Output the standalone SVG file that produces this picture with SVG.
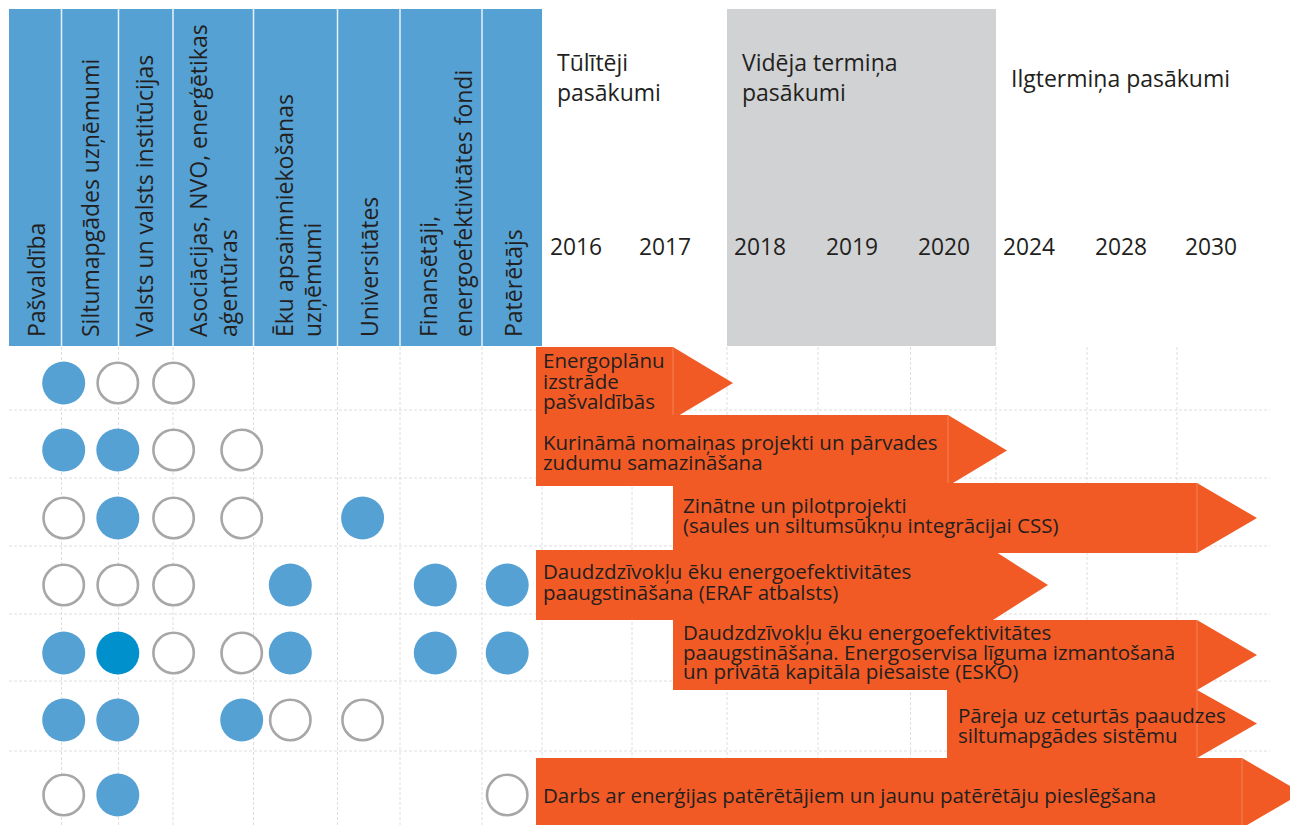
<svg xmlns="http://www.w3.org/2000/svg" width="1290" height="825" viewBox="0 0 1290 825">
<style>
.t{font-family:"Open Sans","Noto Sans","Liberation Sans",sans-serif;fill:#231f20}
.hd{font-size:23px}
.yr{font-size:22.8px}
.ar{font-size:20.5px}
.grid{stroke:#dedede;stroke-width:1;stroke-dasharray:3 2;fill:none}
.div{stroke:#e9f1f8;stroke-width:1.5}
.f{fill:#55a1d4}
.fd{fill:#0091cd}
.o{fill:#fff;stroke:#a7a7a9;stroke-width:2.6}
.arw{fill:#f15a24}
.sep{stroke:#f4825a;stroke-width:1}
</style>
<rect width="1290" height="825" fill="#fff"/>
<g id="background">
<rect x="9" y="9" width="533" height="337" fill="#55a1d4"/>
<rect x="727" y="9" width="269" height="337" fill="#d1d2d4"/>
<g class="div">
<line x1="61.5" y1="9" x2="61.5" y2="346"/>
<line x1="118.5" y1="9" x2="118.5" y2="346"/>
<line x1="173" y1="9" x2="173" y2="346"/>
<line x1="253.5" y1="9" x2="253.5" y2="346"/>
<line x1="337.5" y1="9" x2="337.5" y2="346"/>
<line x1="400" y1="9" x2="400" y2="346"/>
<line x1="482" y1="9" x2="482" y2="346"/>
</g>
</g>
<g id="grid" class="grid">
<line x1="9" y1="410" x2="1270" y2="410"/>
<line x1="9" y1="478" x2="1270" y2="478"/>
<line x1="9" y1="546" x2="1270" y2="546"/>
<line x1="9" y1="614" x2="1270" y2="614"/>
<line x1="9" y1="681" x2="1270" y2="681"/>
<line x1="9" y1="751" x2="1270" y2="751"/>
<line x1="61.5" y1="347" x2="61.5" y2="825"/>
<line x1="118.5" y1="347" x2="118.5" y2="825"/>
<line x1="173" y1="347" x2="173" y2="825"/>
<line x1="253.5" y1="347" x2="253.5" y2="825"/>
<line x1="337.5" y1="347" x2="337.5" y2="825"/>
<line x1="400" y1="347" x2="400" y2="825"/>
<line x1="482" y1="347" x2="482" y2="825"/>
<line x1="542" y1="347" x2="542" y2="825"/>
<line x1="632" y1="347" x2="632" y2="825"/>
<line x1="727" y1="347" x2="727" y2="825"/>
<line x1="818" y1="347" x2="818" y2="825"/>
<line x1="910.5" y1="347" x2="910.5" y2="825"/>
<line x1="996" y1="347" x2="996" y2="825"/>
<line x1="1087" y1="347" x2="1087" y2="825"/>
<line x1="1177" y1="347" x2="1177" y2="825"/>
</g>
<g id="column-headers" class="t hd">
<text transform="translate(45,337) rotate(-90)">Pašvaldība</text>
<text transform="translate(99,337) rotate(-90)">Siltumapgādes uzņēmumi</text>
<text transform="translate(153,337) rotate(-90)">Valsts un valsts institūcijas</text>
<text transform="translate(207,337) rotate(-90)"><tspan x="0" y="0">Asociācijas, NVO, enerģētikas</tspan><tspan x="0" y="30">aģentūras</tspan></text>
<text transform="translate(293,337) rotate(-90)"><tspan x="0" y="0">Ēku apsaimniekošanas</tspan><tspan x="0" y="28">uzņēmumi</tspan></text>
<text transform="translate(378,337) rotate(-90)">Universitātes</text>
<text transform="translate(437,337) rotate(-90)"><tspan x="0" y="0">Finansētāji,</tspan><tspan x="0" y="35">energoefektivitātes fondi</tspan></text>
<text transform="translate(522,337) rotate(-90)">Patērētājs</text>
</g>
<g id="phase-headers" class="t hd">
<text x="557" y="71">Tūlītēji</text>
<text x="557" y="101">pasākumi</text>
<text x="742" y="71">Vidēja termiņa</text>
<text x="742" y="101">pasākumi</text>
<text x="1011" y="87">Ilgtermiņa pasākumi</text>
</g>
<g id="years" class="t yr">
<text x="550" y="255">2016</text>
<text x="639" y="255">2017</text>
<text x="734" y="255">2018</text>
<text x="826" y="255">2019</text>
<text x="918" y="255">2020</text>
<text x="1003" y="255">2024</text>
<text x="1095" y="255">2028</text>
<text x="1185" y="255">2030</text>
</g>
<g id="markers">
<circle class="f" cx="63.7" cy="383" r="21.5"/>
<circle class="o" cx="117.8" cy="383" r="20.2"/>
<circle class="o" cx="173.6" cy="383" r="20.2"/>

<circle class="f" cx="63.7" cy="450" r="21.5"/>
<circle class="f" cx="117.8" cy="450" r="21.5"/>
<circle class="o" cx="173.6" cy="450" r="20.2"/>
<circle class="o" cx="241.7" cy="450" r="20.2"/>

<circle class="o" cx="63.7" cy="518" r="20.2"/>
<circle class="f" cx="117.8" cy="518" r="21.5"/>
<circle class="o" cx="173.6" cy="518" r="20.2"/>
<circle class="o" cx="241.7" cy="518" r="20.2"/>
<circle class="f" cx="362.6" cy="518" r="21.5"/>

<circle class="o" cx="63.7" cy="585" r="20.2"/>
<circle class="o" cx="117.8" cy="585" r="20.2"/>
<circle class="o" cx="173.6" cy="585" r="20.2"/>
<circle class="f" cx="290.3" cy="585" r="21.5"/>
<circle class="f" cx="435.3" cy="585" r="21.5"/>
<circle class="f" cx="507.2" cy="585" r="21.5"/>

<circle class="f" cx="63.7" cy="653" r="21.5"/>
<circle class="fd" cx="117.8" cy="653" r="21.5"/>
<circle class="o" cx="173.6" cy="653" r="20.2"/>
<circle class="o" cx="241.7" cy="653" r="20.2"/>
<circle class="f" cx="290.3" cy="653" r="21.5"/>
<circle class="f" cx="435.3" cy="653" r="21.5"/>
<circle class="f" cx="507.2" cy="653" r="21.5"/>

<circle class="f" cx="63.7" cy="720" r="21.5"/>
<circle class="f" cx="117.8" cy="720" r="21.5"/>
<circle class="f" cx="241.7" cy="720" r="21.5"/>
<circle class="o" cx="290.3" cy="720" r="20.2"/>
<circle class="o" cx="362.6" cy="720" r="20.2"/>

<circle class="o" cx="63.7" cy="795" r="20.2"/>
<circle class="f" cx="117.8" cy="795" r="21.5"/>
<circle class="o" cx="507.2" cy="795" r="20.2"/>
</g>
<g id="arrow-1">
<polygon class="arw" points="536,347 673,347 733,383 673,419 536,419"/>
<line class="sep" x1="673" y1="347" x2="673" y2="415"/>
</g>
<g id="arrow-2">
<polygon class="arw" points="536,415 948,415 1007,450.5 948,486 536,486"/>
<line class="sep" x1="948" y1="415" x2="948" y2="483"/>
</g>
<g id="arrow-3">
<polygon class="arw" points="673,483 1197,483 1257,518 1197,553 673,553"/>
<line class="sep" x1="1197" y1="483" x2="1197" y2="553"/>
</g>
<g id="arrow-4">
<polygon class="arw" points="536,550 993,550 1048,585 993,620 536,620"/>
</g>
<g id="arrow-5">
<polygon class="arw" points="673,620 1197,620 1257,655 1197,690 673,690"/>
<line class="sep" x1="1197" y1="620" x2="1197" y2="690"/>
</g>
<g id="arrow-6">
<polygon class="arw" points="947,690 1197,690 1257,723.5 1197,758 947,758"/>
<line class="sep" x1="1197" y1="690" x2="1197" y2="758"/>
</g>
<g id="arrow-7">
<polygon class="arw" points="536,758 1242,758 1302,793 1242,828 536,828"/>
<line class="sep" x1="1242" y1="758" x2="1242" y2="825"/>
</g>
<g id="arrow-labels" class="t ar">
<text x="543" y="368">Energoplānu</text>
<text x="543" y="389">izstrāde</text>
<text x="543" y="409">pašvaldībās</text>
<text x="543" y="450">Kurināmā nomaiņas projekti un pārvades</text>
<text x="543" y="470">zudumu samazināšana</text>
<text x="683" y="513">Zinātne un pilotprojekti</text>
<text x="683" y="533">(saules un siltumsūkņu integrācijai CSS)</text>
<text x="543" y="579">Daudzdzīvokļu ēku energoefektivitātes</text>
<text x="543" y="600">paaugstināšana (ERAF atbalsts)</text>
<text x="683" y="640">Daudzdzīvokļu ēku energoefektivitātes</text>
<text x="683" y="660">paaugstināšana. Energoservisa līguma izmantošanā</text>
<text x="683" y="679">un privātā kapitāla piesaiste (ESKO)</text>
<text x="958" y="723">Pāreja uz ceturtās paaudzes</text>
<text x="958" y="743">siltumapgādes sistēmu</text>
<text x="543" y="803">Darbs ar enerģijas patērētājiem un jaunu patērētāju pieslēgšana</text>
</g>
</svg>
